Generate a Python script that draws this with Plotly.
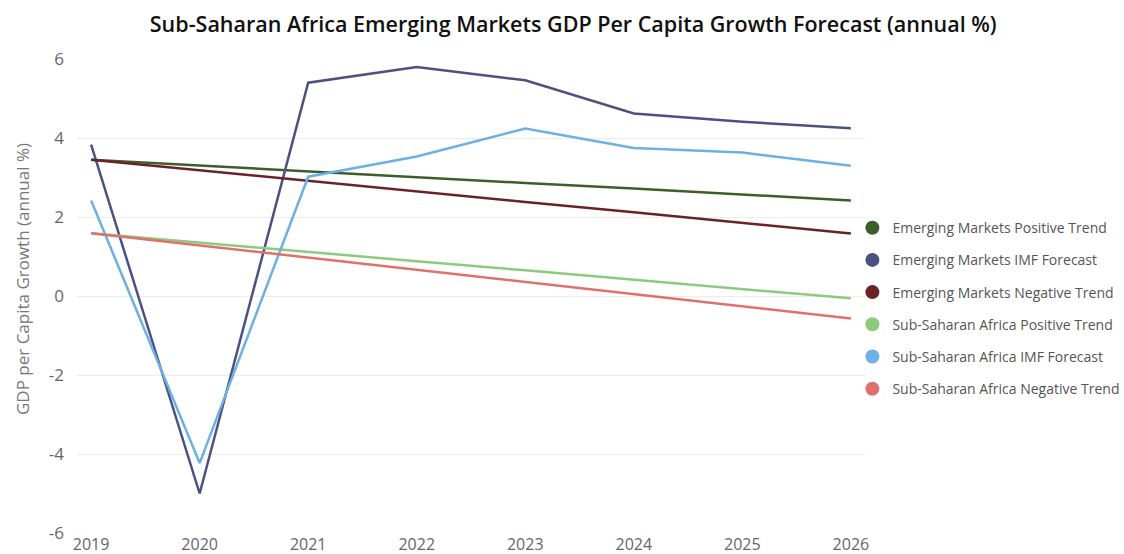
import plotly.graph_objects as go

years = [2019, 2020, 2021, 2022, 2023, 2024, 2025, 2026]
y_ticks = [-6, -4, -2, 0, 2, 4, 6]
y_tick_labels = ["-6", "-4", "-2", "0", "2", "4", "6"]

em_positive_trend = [3.45, 3.30, 3.16, 3.01, 2.86, 2.72, 2.57, 2.42]
em_imf_forecast = [3.83, -5.00, 5.40, 5.80, 5.46, 4.62, 4.41, 4.25]
em_negative_trend = [3.45, 3.18, 2.92, 2.65, 2.38, 2.12, 1.85, 1.58]
ssa_positive_trend = [1.59, 1.35, 1.12, 0.88, 0.65, 0.41, 0.18, -0.06]
ssa_imf_forecast = [2.42, -4.23, 3.02, 3.53, 4.24, 3.75, 3.63, 3.30]
ssa_negative_trend = [1.59, 1.28, 0.97, 0.66, 0.35, 0.05, -0.26, -0.57]

series = [
    ("Emerging Markets Positive Trend", em_positive_trend, "#3b5e2b"),
    ("Emerging Markets IMF Forecast", em_imf_forecast, "#4b5283"),
    ("Emerging Markets Negative Trend", em_negative_trend, "#6b2226"),
    ("Sub-Saharan Africa Positive Trend", ssa_positive_trend, "#8ccb7e"),
    ("Sub-Saharan Africa IMF Forecast", ssa_imf_forecast, "#6cb0e4"),
    ("Sub-Saharan Africa Negative Trend", ssa_negative_trend, "#e0706c"),
]

fig = go.Figure()

# the lines themselves
for name, values, color in series:
    fig.add_trace(go.Scatter(
        x=years, y=values, mode="lines", name=name,
        line=dict(color=color, width=2.5),
        showlegend=False, legendgroup=name,
    ))

# round legend markers
for name, values, color in series:
    fig.add_trace(go.Scatter(
        x=[None], y=[None], mode="markers", name=name,
        marker=dict(color=color, size=14),
        legendgroup=name, showlegend=True,
    ))

fig.update_layout(
    width=1124, height=554,
    margin=dict(l=77, r=259, t=59, b=21, autoexpand=False),
    paper_bgcolor="white", plot_bgcolor="white",
    font=dict(family="Open Sans", color="#666666"),
    title=dict(
        text="Sub-Saharan Africa Emerging Markets GDP Per Capita Growth Forecast (annual %)",
        x=0.51, xanchor="center", y=1 - 24 / 554, yanchor="middle",
        font=dict(family="Open Sans", size=21.5, color="#111111", weight=600),
    ),
    showlegend=True,
    legend=dict(
        x=0.984, xanchor="left", y=0.677, yanchor="top",
        bgcolor="rgba(0,0,0,0)",
        font=dict(size=14, color="#555555"),
        tracegroupgap=11,
    ),
    xaxis=dict(
        range=[2018.87, 2026.13], automargin=False,
        tickmode="array", tickvals=years, ticktext=[str(y) for y in years],
        showgrid=False, zeroline=False, showline=False,
        tickfont=dict(size=16, color="#666666"),
    ),
    yaxis=dict(
        range=[-6, 6], automargin=False,
        tickmode="array", tickvals=y_ticks, ticktext=y_tick_labels,
        showgrid=True, gridcolor="#ececec", gridwidth=1,
        zeroline=False, showline=False,
        ticklabelstandoff=12,
        tickfont=dict(size=17, color="#666666"),
    ),
    annotations=[dict(
        text="GDP per Capita Growth (annual %)",
        xref="paper", yref="paper", x=(22 - 77) / 788, y=1 - (279 - 59) / 474,
        xanchor="center", yanchor="middle", textangle=-90, showarrow=False,
        font=dict(size=17, color="#777777"),
    )],
)

fig.write_html("out.html")
